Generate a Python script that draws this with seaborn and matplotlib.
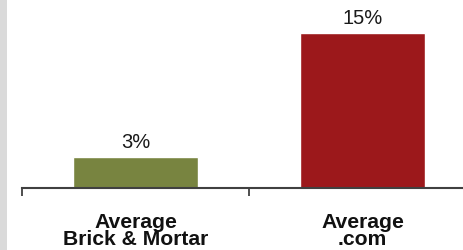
import matplotlib
matplotlib.use("Agg")
import matplotlib.pyplot as plt
import seaborn as sns
import pandas as pd
from matplotlib.patches import Rectangle

# --- data ---
categories = ["Average\nBrick & Mortar", "Average\n.com"]
values = [3, 15]
value_labels = ["3%", "15%"]
bar_colors = ["#788440", "#9c181b"]

sns.set_theme(style="white")
plt.rcParams['font.family'] = ['Liberation Sans', 'DejaVu Sans']

df = pd.DataFrame({"cat": categories, "val": values})

fig = plt.figure(figsize=(4.64, 2.5), dpi=100)
ax = fig.add_axes([22 / 464, 62 / 250, 442 / 464, 168 / 250])

sns.barplot(data=df, x="cat", y="val", hue="cat", palette=bar_colors,
            width=0.55, legend=False, saturation=1, ax=ax)

for i, (v, lab) in enumerate(zip(values, value_labels)):
    ax.text(i, v + 0.5, lab, ha="center", va="bottom", fontsize=14.5, color="#1a1a1a")

ax.set_xlim(-0.5, 1.447)
ax.set_ylim(0, 16.26)
ax.set_xlabel("")
ax.set_ylabel("")
ax.set_yticks([])

ax.set_xticks([0, 1])
ax.set_xticklabels(categories, fontsize=15.2, fontweight="bold", color="#111111",
                   linespacing=0.88)
ax.set_xticks([-0.5, 0.5], minor=True)
ax.tick_params(axis="x", which="major", length=0, pad=18)
ax.tick_params(axis="x", which="minor", length=6, width=1.3, color="#404040",
               direction="out", bottom=True)

for s in ["top", "right", "left"]:
    ax.spines[s].set_visible(False)
ax.spines["bottom"].set_color("#404040")
ax.spines["bottom"].set_linewidth(1.5)
ax.patch.set_alpha(0)

# grey strip at the left edge
fig.patches.append(Rectangle((0, 0), 7 / 464, 1, transform=fig.transFigure,
                             facecolor="#dadada", edgecolor="none", zorder=0))

fig.savefig("out.png", dpi=100)
